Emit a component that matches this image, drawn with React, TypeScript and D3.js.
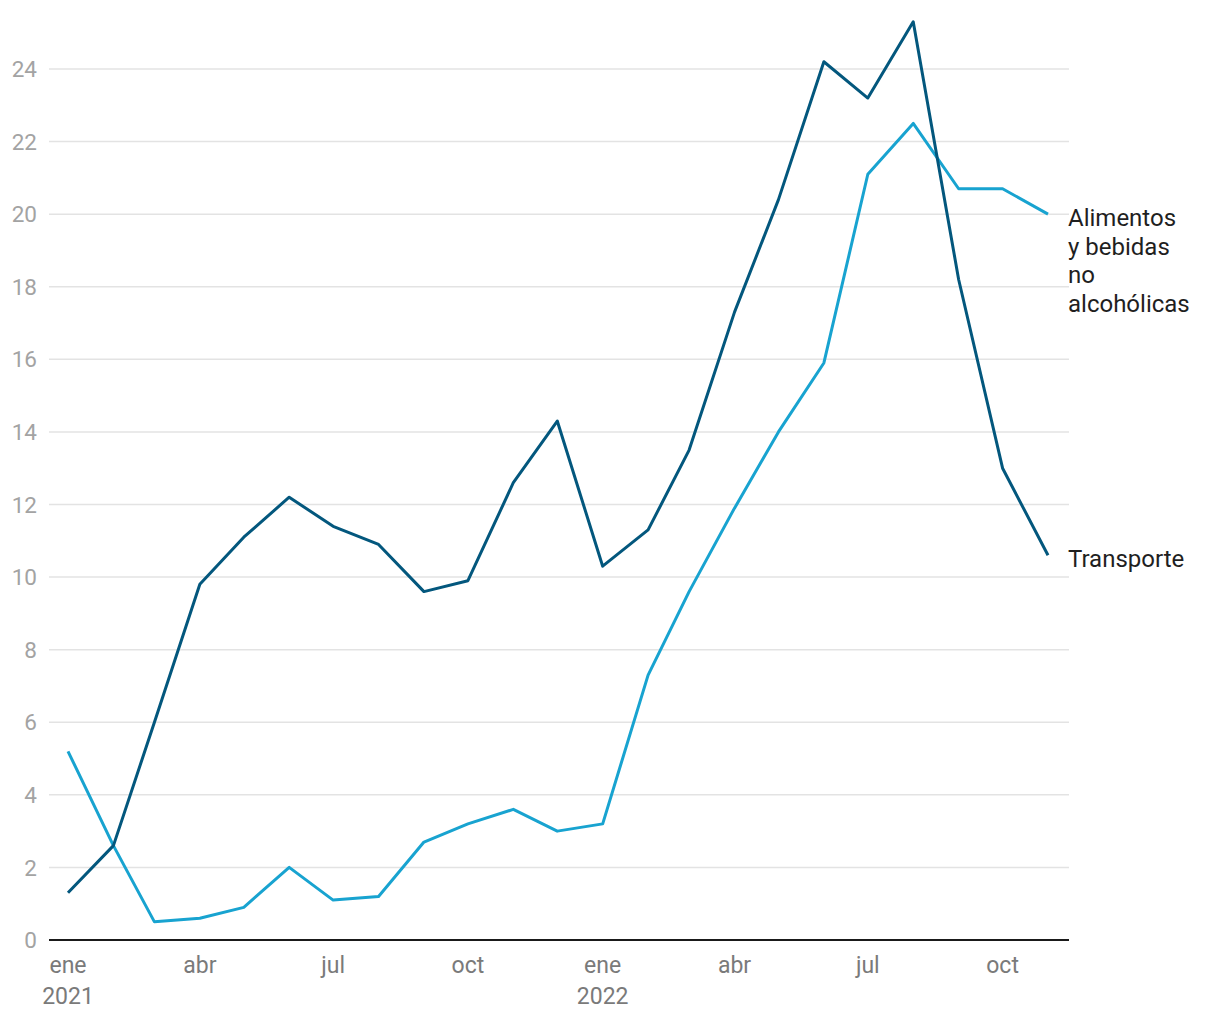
import React from "react";
import * as d3 from "d3";

const months: string[] = [
  "2021-01", "2021-02", "2021-03", "2021-04", "2021-05", "2021-06", "2021-07", "2021-08",
  "2021-09", "2021-10", "2021-11", "2021-12", "2022-01", "2022-02", "2022-03", "2022-04",
  "2022-05", "2022-06", "2022-07", "2022-08", "2022-09", "2022-10", "2022-11",
];
const transporte: number[] = [
  1.3, 2.6, 6.0, 9.8, 11.1, 12.2, 11.4, 10.9, 9.6, 9.9, 12.6, 14.3,
  10.3, 11.3, 13.5, 17.3, 20.4, 24.2, 23.2, 25.3, 18.2, 13.0, 10.6,
];
const alimentos: number[] = [
  5.2, 2.6, 0.5, 0.6, 0.9, 2.0, 1.1, 1.2, 2.7, 3.2, 3.6, 3.0,
  3.2, 7.3, 9.6, 11.9, 14.0, 15.9, 21.1, 22.5, 20.7, 20.7, 20.0,
];
const yTicks: number[] = [0, 2, 4, 6, 8, 10, 12, 14, 16, 18, 20, 22, 24];
const xTickMonths: string[] = ["2021-01", "2021-04", "2021-07", "2021-10", "2022-01", "2022-04", "2022-07", "2022-10"];
const monthNames: string[] = ["ene", "feb", "mar", "abr", "may", "jun", "jul", "ago", "sep", "oct", "nov", "dic"];
const alimentosLabel: string[] = ["Alimentos", "y bebidas", "no", "alcohólicas"];
const transporteLabel: string[] = ["Transporte"];

const parse = d3.timeParse("%Y-%m");

export default function App() {
  const W = 1220, H = 1020;
  const left = 49, right = 1069, bottom = 940;
  const dates = months.map((m) => parse(m) as Date);
  const x = d3.scaleTime().domain([dates[0], dates[dates.length - 1]]).range([68, 1048]);
  const y = d3.scaleLinear().domain([0, 24]).range([bottom, 69]);
  const line = d3.line<number>().x((_, i) => x(dates[i])).y((d) => y(d));
  const font = "Roboto, 'Noto Sans', sans-serif";
  const lastI = months.length - 1;

  return (
    <svg width={W} height={H} style={{ position: "absolute", left: 0, top: 0, background: "#fff" }} fontFamily={font}>
      {yTicks.map((t) => (
        <g key={t}>
          {t !== 0 && <line x1={left} x2={right} y1={y(t)} y2={y(t)} stroke="#e3e3e3" strokeWidth={1.5} />}
          <text x={37} y={y(t)} dy="0.36em" textAnchor="end" fontSize={22.5} fill="#a3a3a3">{t}</text>
        </g>
      ))}
      <path d={line(alimentos) || ""} fill="none" stroke="#18a3d0" strokeWidth={3} strokeLinejoin="round" />
      <path d={line(transporte) || ""} fill="none" stroke="#03577d" strokeWidth={3} strokeLinejoin="round" />
      <line x1={left} x2={right} y1={bottom} y2={bottom} stroke="#1a1a1a" strokeWidth={2} />
      {xTickMonths.map((m) => {
        const d = parse(m) as Date;
        const mi = d.getMonth();
        return (
          <g key={m}>
            <text x={x(d)} y={973} textAnchor="middle" fontSize={23} fill="#7a7a7a">{monthNames[mi]}</text>
            {mi === 0 && (
              <text x={x(d)} y={1004} textAnchor="middle" fontSize={23} fill="#7a7a7a">{d.getFullYear()}</text>
            )}
          </g>
        );
      })}
      {alimentosLabel.map((s, i) => (
        <text key={s} x={1068} y={y(alimentos[lastI]) + 12 + i * 28.5} fontSize={24} fill="#1f1f1f">{s}</text>
      ))}
      {transporteLabel.map((s, i) => (
        <text key={s} x={1068} y={y(transporte[lastI]) + 12 + i * 28.5} fontSize={24} fill="#1f1f1f">{s}</text>
      ))}
    </svg>
  );
}
